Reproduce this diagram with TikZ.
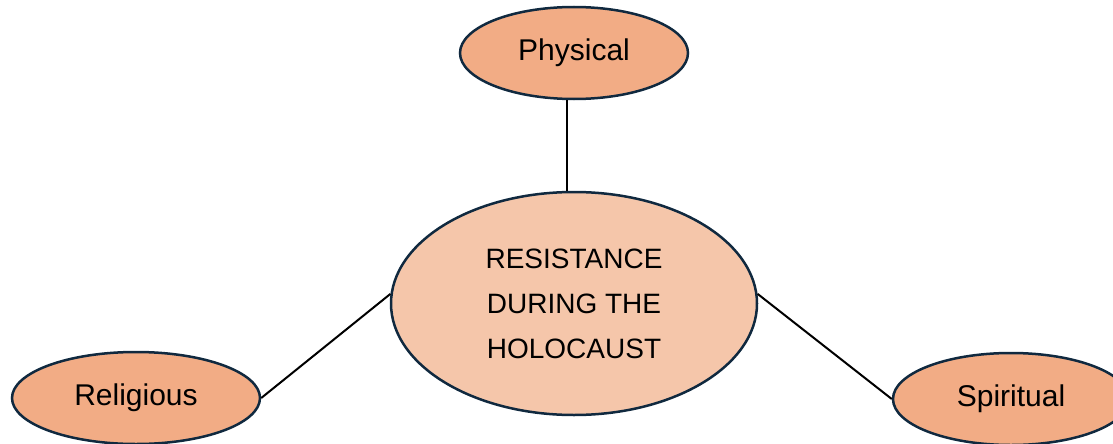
\documentclass[tikz,border=0pt]{standalone}
\usepackage{fontspec}
\setmainfont{Liberation Sans}
\usetikzlibrary{shapes.geometric}
\definecolor{outerfill}{HTML}{F2AC85}
\definecolor{innerfill}{HTML}{F5C6AA}
\definecolor{rim}{HTML}{10293F}
\tikzset{
  oval/.style={ellipse, draw=rim, line width=2.5pt, inner sep=0pt},
  leaf/.style={oval, fill=outerfill, minimum width=228pt, minimum height=92pt, font=\fontsize{30}{36}\selectfont},
  hub/.style={oval, fill=innerfill, minimum width=366pt, minimum height=223pt, align=center, font=\fontsize{28}{45}\selectfont},
  link/.style={draw=black, line width=2pt}
}
\begin{document}
\begin{tikzpicture}[x=1pt,y=-1pt]
\useasboundingbox (0,0) rectangle (1113,444);
\node[hub] (main) at (574,303.5) {RESISTANCE\\DURING THE\\HOLOCAUST};
\node[leaf] (phys) at (574,53) {Physical};
\node[leaf, minimum width=248pt] (rel) at (136,398) {Religious};
\node[leaf, minimum width=236pt] (spir) at (1011,399) {Spiritual};
\draw[link] ([xshift=-7pt]phys.south) -- ([xshift=-7pt]main.north);
\draw[link] (rel.east) -- (main.177);
\draw[link] (spir.west) -- (main.3);
\end{tikzpicture}
\end{document}
